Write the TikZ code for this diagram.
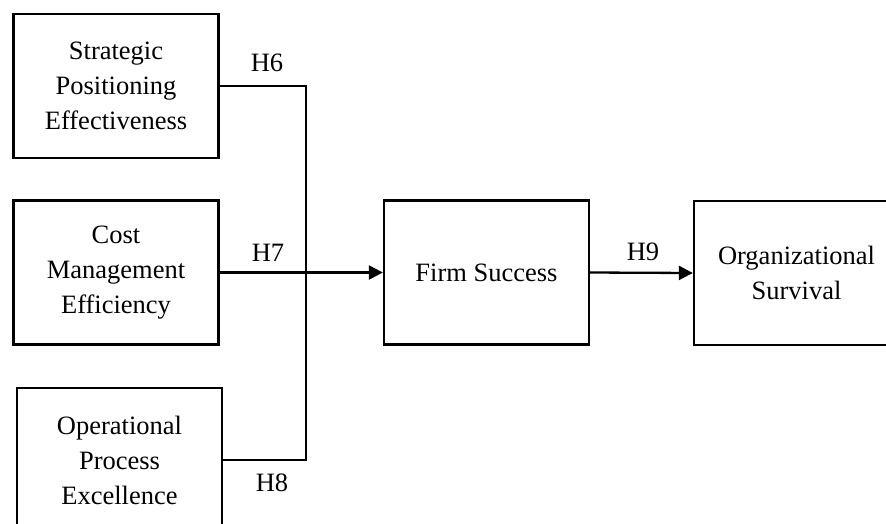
\documentclass[tikz,border=0pt]{standalone}
\usepackage{fontspec}
\setmainfont{Liberation Serif}
\usetikzlibrary{arrows.meta,positioning}
\tikzset{
  box/.style={draw,line width=2.3pt,minimum width=205pt,minimum height=144pt,align=center,inner sep=0pt},
  link/.style={line width=2.3pt},
  arr/.style={line width=2.3pt,-{Triangle[length=14pt,width=14pt]}},
  hyp/.style={inner sep=0pt}
}
\begin{document}
\begin{tikzpicture}[x=1pt,y=-1pt,font=\fontsize{26.5}{35}\selectfont]
\useasboundingbox (0,0) rectangle (886,523);
\clip (0,0) rectangle (886,523);
\node[box] (spe) at (116,86) {Strategic\\Positioning\\Effectiveness};
\node[box] (cme) at (116,272.5) {Cost\\Management\\Efficiency};
\node[box] (ope) at (119.5,460) {Operational\\Process\\Excellence};
\node[box] (fs) at (486.5,272.5) {Firm Success};
\node[box] (os) at (796.5,273) {Organizational\\Survival};
\coordinate (j) at (306,273);
% paths into firm success
\draw[link] (spe.east) -| (j) |- (ope.east);
\draw[arr] (cme.east) -- (fs.west);
\draw[arr] (fs.east) -- (os.west);
\node[hyp] (h6) at (267,63) {H6};
\node[hyp] (h7) at (268,253) {H7};
\node[hyp] (h8) at (272,483) {H8};
\node[hyp] (h9) at (643,252) {H9};
\end{tikzpicture}
\end{document}
